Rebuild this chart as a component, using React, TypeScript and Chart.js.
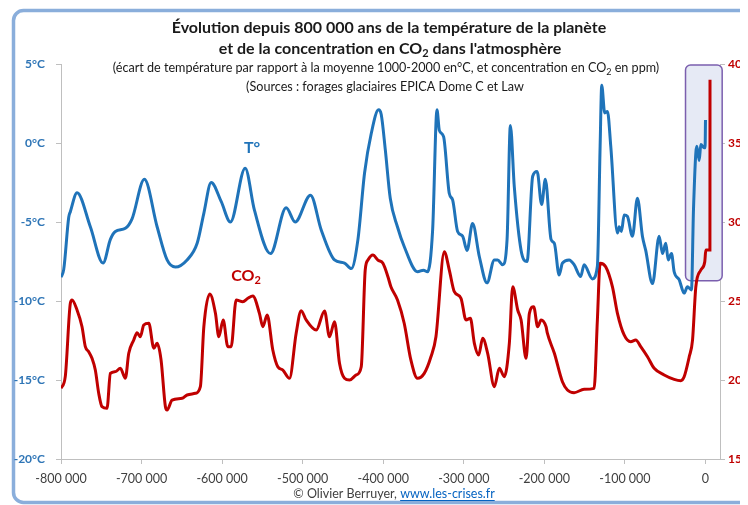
import React, { useEffect, useRef } from 'react';
import { Chart, registerables } from 'chart.js';

Chart.register(...registerables);

// ---------- Data ----------
const TEMP_YEARS = [
  -800000, -796600, -790400, -788400, -780100, -763600, -747800, -738700, -732500, -720100,
  -711800, -696500, -680700, -668300, -658000, -643500, -631000, -622700, -613600, -601200,
  -589700, -571400, -559900, -540000, -520500, -509300, -490300, -477000, -460500, -448100,
  -439700, -431400, -423200, -414900, -405800, -402500, -397500, -391300, -382400, -374000,
  -357400, -350000, -345000, -338700, -333300, -330400, -325100, -318000, -313900, -307700,
  -301500, -296000, -289100, -280700, -271200, -262100, -258000, -251800, -246300, -242200,
  -237300, -228900, -221500, -214500, -209000, -203400, -198800, -191700, -187600, -181700,
  -177600, -169300, -163100, -154900, -150700, -140400, -134200, -130800, -128800, -125100,
  -121700, -117600, -109300, -107200, -104300, -101000, -96900, -90700, -84500, -78300,
  -74200, -65800, -57500, -53400, -49300, -46300, -42200, -38900, -32700, -26500,
  -22400, -17400, -14900, -10800, -7800, -5800, -1600, -500, 0,
];
const TEMP_VALUES = [
  -8.5, -8.0, -4.7, -4.35, -3.15, -5.3, -7.6, -6.1, -5.6, -5.4,
  -4.8, -2.3, -5.3, -7.4, -7.85, -7.4, -6.35, -4.45, -2.5, -3.7,
  -5.0, -1.6, -4.25, -7.0, -4.1, -5.0, -3.3, -5.5, -7.4, -7.6,
  -7.95, -6.1, -1.9, 0.6, 2.1, 1.8, -0.4, -3.5, -5.3, -6.55,
  -8.15, -8.05, -8.15, -5.5, 2.1, 0.8, 0.4, -3.2, -3.6, -5.6,
  -5.9, -6.8, -5.1, -7.2, -8.85, -7.4, -7.4, -7.7, -6.1, 1.1,
  -2.8, -6.8, -7.5, -2.1, -1.8, -3.9, -2.3, -6.1, -6.35, -8.35,
  -7.6, -7.4, -7.7, -8.45, -7.7, -8.6, -7.8, -0.2, 3.65, 1.9,
  2.0, -0.2, -5.7, -5.3, -5.6, -4.55, -4.65, -5.9, -3.5, -5.9,
  -6.8, -8.9, -5.9, -7.0, -6.35, -7.4, -7.0, -8.15, -8.65, -9.5,
  -9.1, -9.3, -4.2, -0.2, -1.1, -0.1, -0.3, -0.3, 1.45,
];

const CO2_YEARS = [
  -800000, -794700, -788400, -786300, -780100, -773900, -769800, -765600, -761500, -757400,
  -753200, -749100, -742900, -738700, -732500, -726300, -720100, -715900, -709700, -705600,
  -701500, -697300, -691000, -684800, -680700, -675800, -670400, -668300, -662100, -649700,
  -643500, -633200, -627000, -622700, -615300, -608300, -604100, -598700, -592900, -588800,
  -582600, -574300, -568100, -561900, -553700, -549500, -544100, -537100, -530900, -524600,
  -516400, -508100, -501900, -495700, -483200, -472900, -466700, -460500, -454300, -448100,
  -441800, -433500, -427300, -422400, -419000, -412800, -406600, -400400, -394200, -390500,
  -382300, -374000, -365700, -357500, -349100, -340800, -334600, -324200, -318000, -311800,
  -303500, -297300, -291900, -286900, -281600, -276600, -270400, -262100, -255900, -249700,
  -243500, -239300, -233100, -228900, -222700, -218600, -213300, -208300, -204100, -197900,
  -196300, -187600, -177600, -171400, -163100, -150700, -138300, -134200, -130800, -123900,
  -115500, -109300, -101000, -92800, -86600, -80400, -72000, -63700, -51300, -38900,
  -30700, -26500, -20200, -16100, -12000, -5800, -900, 400, 5500, 5600,
];
const CO2_VALUES = [
  194.7, 202.1, 248.5, 250.6, 244.3, 233.7, 221.1, 217.9, 213.7, 206.3,
  191.6, 183.1, 182.1, 204.2, 205.3, 207.4, 201.1, 216.9, 225.3, 229.9,
  227.4, 234.8, 235.9, 220.1, 223.2, 212.7, 183.1, 181.0, 187.3, 188.4,
  190.5, 191.6, 195.8, 233.7, 254.4, 242.2, 227.4, 238.0, 221.1, 221.1,
  250.6, 249.6, 251.7, 253.2, 242.2, 233.7, 241.1, 219.0, 208.4, 206.3,
  201.1, 229.6, 243.9, 238.0, 231.6, 243.7, 227.4, 236.9, 210.6, 201.1,
  200.0, 203.2, 208.4, 269.6, 275.9, 279.1, 275.9, 273.9, 265.4, 259.0,
  250.6, 235.9, 212.7, 201.1, 204.2, 214.7, 227.4, 281.2, 269.6, 255.9,
  251.7, 238.0, 239.1, 223.2, 215.8, 226.4, 216.9, 195.8, 207.4, 202.1,
  223.2, 259.0, 244.3, 238.0, 213.7, 242.2, 246.4, 233.7, 238.0, 233.7,
  229.6, 216.9, 198.9, 193.7, 192.0, 194.1, 194.7, 238.0, 273.9, 271.7,
  259.0, 242.2, 228.5, 224.2, 225.3, 221.1, 214.7, 207.4, 203.2, 200.4,
  199.6, 202.1, 214.7, 225.3, 259.0, 269.6, 274.9, 282.3, 282.3, 390.0,
];

const X_TICKS = [-800000, -700000, -600000, -500000, -400000, -300000, -200000, -100000, 0];
const TEMP_TICKS = [-20, -15, -10, -5, 0, 5];
const CO2_TICKS = [150, 200, 250, 300, 350, 400];

const X_RANGE = [-800000, 18000];
const HIGHLIGHT_YEARS = [-24800, 20700];
const HIGHLIGHT_TEMPS = [-8.72, 4.94];

const TITLE_1 = 'Évolution depuis 800 000 ans de la température de la planète';
const TITLE_2: [string, boolean][] = [['et de la concentration en CO', false], ['2', true], [" dans l'atmosphère", false]];
const SUB_1: [string, boolean][] = [
  ['(écart de température par rapport à la moyenne 1000-2000 en°C, et concentration en CO', false],
  ['2', true],
  [' en ppm)', false],
];
const SUB_2 = '(Sources : forages glaciaires EPICA Dome C et Law';
const LABEL_T = 'T°';
const LABEL_CO2: [string, boolean][] = [['CO', false], ['2', true]];
const FOOTER_A = '© Olivier Berruyer, ';
const FOOTER_B = 'www.les-crises.fr';

const BLUE = '#1f73b9';
const RED = '#c00000';
const FONT = 'Lato, "Open Sans", sans-serif';

function fmtYear(v: number): string {
  const a = Math.abs(v).toString().replace(/\B(?=(\d{3})+(?!\d))/g, ' ');
  return (v < 0 ? '-' : '') + a;
}

function drawRich(
  ctx: CanvasRenderingContext2D,
  parts: [string, boolean][],
  cx: number,
  cy: number,
  size: number,
  weight: string,
  color: string,
) {
  const main = `${weight} ${size}px ${FONT}`;
  const sub = `${weight} ${Math.round(size * 0.7)}px ${FONT}`;
  let total = 0;
  const widths = parts.map(([t, s]) => {
    ctx.font = s ? sub : main;
    const w = ctx.measureText(t).width;
    total += w;
    return w;
  });
  let x = cx - total / 2;
  ctx.fillStyle = color;
  ctx.textAlign = 'left';
  ctx.textBaseline = 'middle';
  parts.forEach(([t, s], i) => {
    ctx.font = s ? sub : main;
    ctx.fillText(t, x, s ? cy + size * 0.3 : cy);
    x += widths[i];
  });
}

export default function App() {
  const ref = useRef<HTMLCanvasElement>(null);

  useEffect(() => {
    const canvas = ref.current;
    if (!canvas) return;

    const framePlugin = {
      id: 'frame',
      beforeDraw(chart: any) {
        const ctx = chart.ctx as CanvasRenderingContext2D;
        ctx.save();
        ctx.fillStyle = '#ffffff';
        ctx.fillRect(0, 0, chart.width, chart.height);
        ctx.strokeStyle = '#8aaedb';
        ctx.lineWidth = 3.5;
        ctx.beginPath();
        (ctx as any).roundRect(5.5, 2.5, 800, 492, 10);
        ctx.stroke();
        ctx.restore();
      },
    };

    const highlightPlugin = {
      id: 'highlight',
      beforeDatasetsDraw(chart: any) {
        const ctx = chart.ctx as CanvasRenderingContext2D;
        const xs = chart.scales.x;
        const ys = chart.scales.y;
        const x1 = xs.getPixelForValue(HIGHLIGHT_YEARS[0]);
        const x2 = xs.getPixelForValue(HIGHLIGHT_YEARS[1]);
        const y1 = ys.getPixelForValue(HIGHLIGHT_TEMPS[1]);
        const y2 = ys.getPixelForValue(HIGHLIGHT_TEMPS[0]);
        ctx.save();
        ctx.beginPath();
        (ctx as any).roundRect(x1, y1, x2 - x1, y2 - y1, 5);
        ctx.fillStyle = '#e6eaf5';
        ctx.fill();
        ctx.strokeStyle = '#7b5fae';
        ctx.lineWidth = 1.5;
        ctx.stroke();
        ctx.restore();
      },
    };

    const textPlugin = {
      id: 'texts',
      afterDraw(chart: any) {
        const ctx = chart.ctx as CanvasRenderingContext2D;
        ctx.save();
        drawRich(ctx, [[TITLE_1, false]], 381, 20, 16, 'bold', '#1a1a1a');
        drawRich(ctx, TITLE_2, 382, 41, 16, 'bold', '#1a1a1a');
        drawRich(ctx, SUB_1, 378, 60, 12.6, 'normal', '#1a1a1a');
        drawRich(ctx, [[SUB_2, false]], 377, 79, 12.6, 'normal', '#1a1a1a');
        drawRich(ctx, [[LABEL_T, false]], 244, 140, 16, 'bold', BLUE);
        drawRich(ctx, LABEL_CO2, 238, 268, 16, 'bold', RED);
        // footer
        const size = 12.5;
        ctx.font = `normal ${size}px ${FONT}`;
        const wa = ctx.measureText(FOOTER_A).width;
        const wb = ctx.measureText(FOOTER_B).width;
        let x = 386 - (wa + wb) / 2;
        const y = 486;
        ctx.textAlign = 'left';
        ctx.textBaseline = 'middle';
        ctx.fillStyle = '#404040';
        ctx.fillText(FOOTER_A, x, y);
        x += wa;
        ctx.fillStyle = '#0563c1';
        ctx.fillText(FOOTER_B, x, y);
        ctx.fillRect(x, y + 6, wb, 1);
        ctx.restore();
      },
    };

    const chart = new Chart(canvas, {
      type: 'line',
      data: {
        datasets: [
          {
            label: 'T°',
            data: TEMP_YEARS.map((x, i) => ({ x, y: TEMP_VALUES[i] })),
            borderColor: BLUE,
            borderWidth: 3,
            pointRadius: 0,
            cubicInterpolationMode: 'monotone',
            yAxisID: 'y',
          },
          {
            label: 'CO2',
            data: CO2_YEARS.map((x, i) => ({ x, y: CO2_VALUES[i] })),
            borderColor: RED,
            borderWidth: 3,
            pointRadius: 0,
            cubicInterpolationMode: 'monotone',
            yAxisID: 'y2',
          },
        ],
      },
      options: {
        responsive: false,
        animation: false,
        devicePixelRatio: 1,
        layout: { padding: { top: 56, left: 0, right: 0, bottom: 0 } },
        plugins: {
          legend: { display: false },
          tooltip: { enabled: false },
          title: { display: false },
        },
        scales: {
          x: {
            type: 'linear',
            min: X_RANGE[0],
            max: X_RANGE[1],
            afterBuildTicks: (s: any) => {
              s.ticks = X_TICKS.map((v) => ({ value: v }));
            },
            afterFit: (s: any) => {
              s.height = 46;
            },
            grid: { drawOnChartArea: false, tickLength: 5, color: '#bfbfbf' },
            border: { display: true, color: '#bfbfbf' },
            ticks: {
              callback: (v: any) => fmtYear(Number(v)),
              color: '#404040',
              font: { family: FONT, size: 12.5 },
              padding: 7,
              maxRotation: 0,
              autoSkip: false,
            },
          },
          y: {
            type: 'linear',
            position: 'left',
            min: -20,
            max: 5,
            afterBuildTicks: (s: any) => {
              s.ticks = TEMP_TICKS.map((v) => ({ value: v }));
            },
            afterFit: (s: any) => {
              s.width = 53;
            },
            grid: { drawOnChartArea: false, tickLength: 5, color: '#bfbfbf' },
            border: { display: true, color: '#bfbfbf' },
            ticks: {
              callback: (v: any) => `${v}°C`,
              color: '#2e75b6',
              font: { family: FONT, size: 12, weight: 'bold' },
              padding: 11,
            },
          },
          y2: {
            type: 'linear',
            position: 'right',
            min: 150,
            max: 400,
            afterBuildTicks: (s: any) => {
              s.ticks = CO2_TICKS.map((v) => ({ value: v }));
            },
            afterFit: (s: any) => {
              s.width = 48;
            },
            grid: { drawOnChartArea: false, tickLength: 5, color: '#bfbfbf' },
            border: { display: true, color: '#bfbfbf' },
            ticks: {
              color: RED,
              font: { family: FONT, size: 12, weight: 'bold' },
              padding: 3,
            },
          },
        },
      } as any,
      plugins: [framePlugin, highlightPlugin, textPlugin],
    });

    return () => chart.destroy();
  }, []);

  return (
    <div style={{ width: 740, height: 497, overflow: 'hidden', position: 'relative', background: '#fff' }}>
      <canvas ref={ref} width={760} height={497} style={{ display: 'block', width: 760, height: 497 }} />
    </div>
  );
}
